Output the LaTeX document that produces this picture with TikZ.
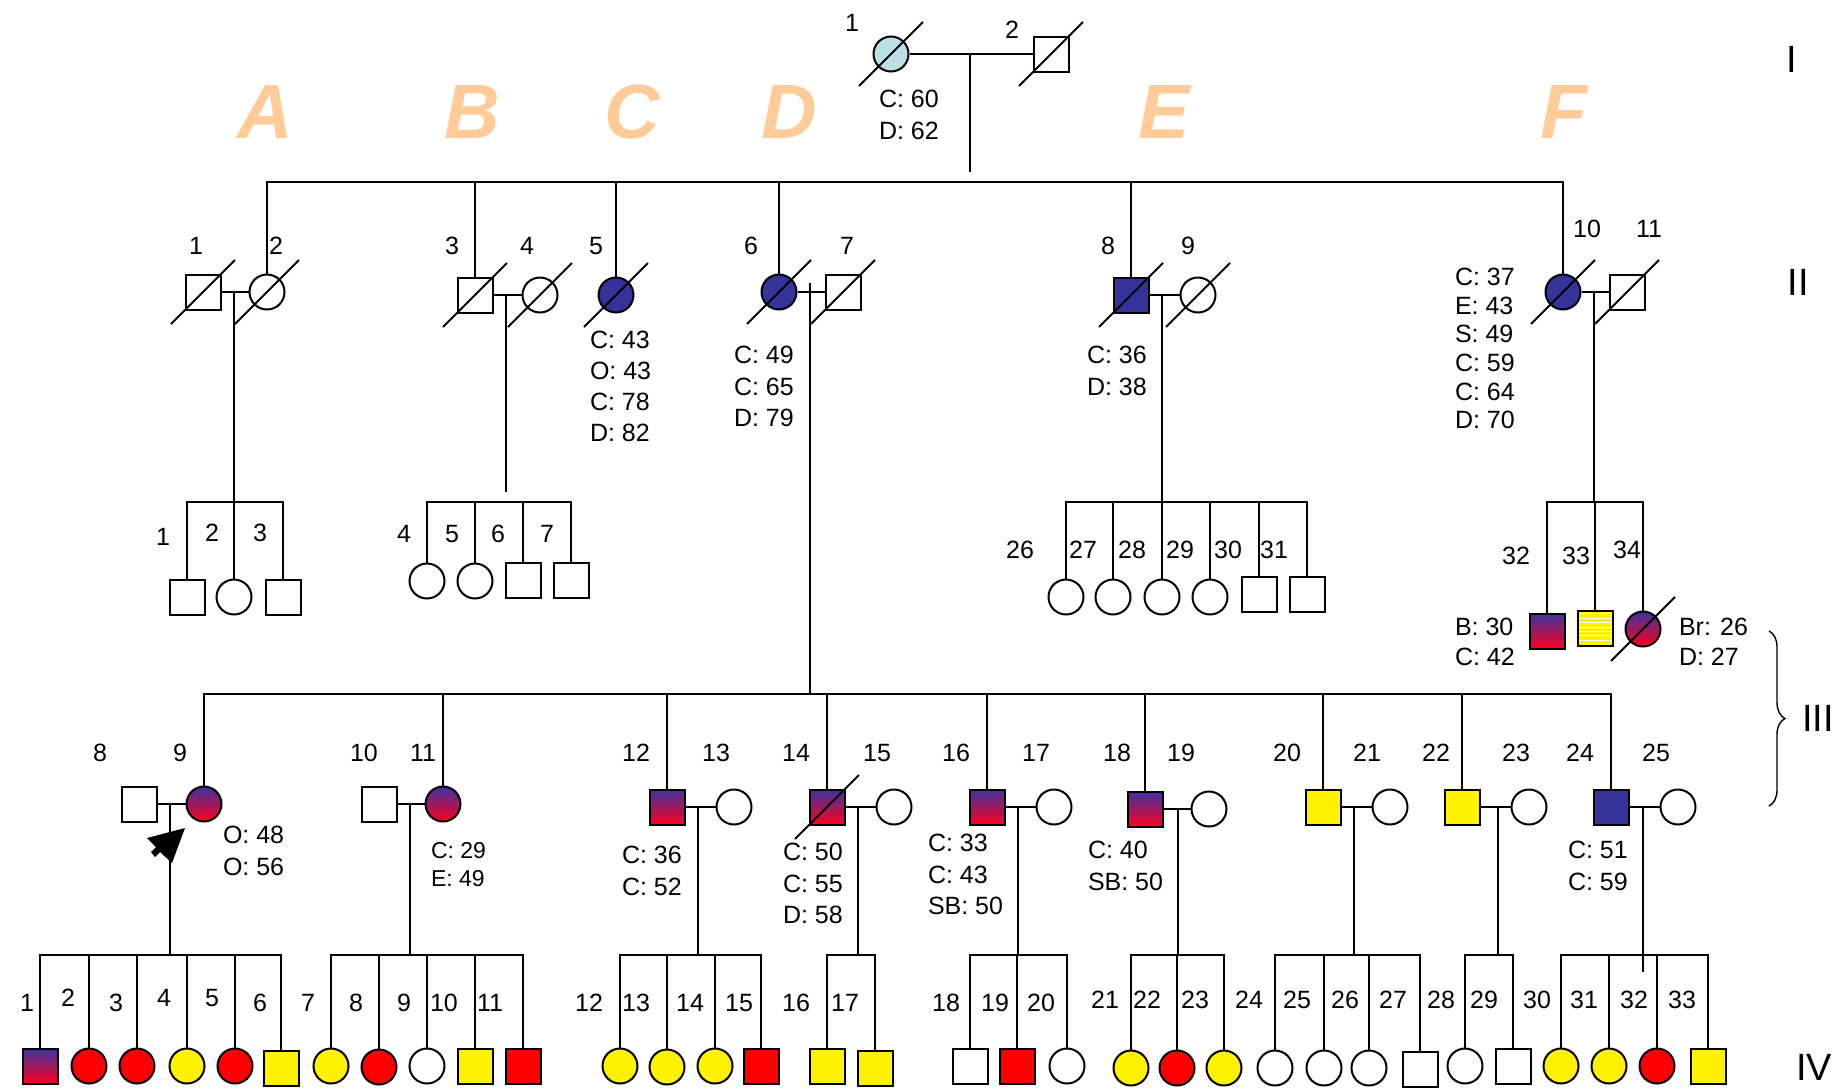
\documentclass[tikz,border=0pt]{standalone}
\usepackage{fontspec}
\setmainfont{Liberation Sans}
\usetikzlibrary{arrows.meta,decorations.pathreplacing}
\definecolor{navy}{RGB}{51,51,153}
\definecolor{lblue}{RGB}{188,224,228}
\definecolor{gtop}{RGB}{60,50,160}
\definecolor{gbot}{RGB}{255,0,30}
\definecolor{peach}{RGB}{255,204,153}
\newcommand\labfont{\fontsize{12.5}{15}\selectfont}
\newcommand\infofont[1]{\fontsize{12.5}{#1}\selectfont}
\newcommand\deadmark[1]{\draw (#1) ++(-32,32) -- ++(64,-64);}
\newcommand\sibship[3]{\draw (#2.north) -- (#2.north |- #1) -- (#3.north |- #1) -- (#3.north);}
\newcommand\drops[2]{\foreach \n in {#2} \draw (\n.north) -- (\n.north |- #1);}
\tikzset{
  sq/.style={draw, rectangle, minimum size=17.5pt, inner sep=0pt},
  ci/.style={draw, circle, minimum size=17.5pt, inner sep=0pt},
  nv/.style={fill=navy},
  gr/.style={top color=gtop, bottom color=gbot},
  ye/.style={fill=yellow},
  rd/.style={fill=red},
  num/.style={inner sep=0pt, font=\labfont},
  info/.style={inner sep=0pt, anchor=west, align=left},
  letter/.style={inner sep=0pt, text=peach, font=\fontsize{38.5}{40}\selectfont\bfseries\itshape},
  roman/.style={inner sep=0pt, font=\fontsize{19}{22}\selectfont}
}
\begin{document}
\begin{tikzpicture}[x=0.5pt,y=-0.5pt,line width=1pt]
\useasboundingbox (0,0) rectangle (1843,1088);

% ---------- letters ----------
\foreach \l/\x in {A/265,B/472,C/632,D/789,E/1164,F/1564}
  \node[letter] (L\l) at (\x,112) {\l};

% ---------- generation labels ----------
\node[roman] (gI) at (1792,59) {I};
\node[roman] (gII) at (1798,282) {II};
\node[roman] (gIII) at (1818,718) {III};
\node[roman] (gIV) at (1814,1067) {IV};
\coordinate (brT) at (1769,631);
\coordinate (brB) at (1769,806);
\draw[line width=0.7pt, decorate, decoration={brace, amplitude=8pt}] (brT) -- (brB);

% ---------- generation I ----------
\node[ci, fill=lblue] (I1) at (891,54) {};
\node[sq] (I2) at (1051,54) {};
\node[num] (nI1) at (852,23) {1};
\node[num] (nI2) at (1012,30) {2};
\draw (I1) -- (I2);
\deadmark{I1}
\deadmark{I2}
\coordinate (dI) at (970,54);
\coordinate (dIe) at (970,172);
\draw (dI) -- (dIe);
\node[info, font=\infofont{16}] (tI1) at (878,115) {C: 60\\D: 62};

% ---------- generation II ----------
\node[sq] (II1) at (203,292) {};
\node[ci] (II2) at (267,292) {};
\node[sq] (II3) at (475,295) {};
\node[ci] (II4) at (540,295) {};
\node[ci,nv] (II5) at (616,295) {};
\node[ci,nv] (II6) at (779,292) {};
\node[sq] (II7) at (843,292) {};
\node[sq,nv] (II8) at (1131,295) {};
\node[ci] (II9) at (1198,295) {};
\node[ci,nv] (II10) at (1563,292) {};
\node[sq] (II11) at (1627,292) {};
\foreach \n in {II1,II2,II3,II4,II5,II6,II7,II8,II9,II10,II11} {\deadmark{\n}}

\coordinate (sII) at (0,182);
\sibship{sII}{II2}{II10}
\drops{sII}{II3,II5,II6,II8}

\draw (II1) -- (II2);
\draw (II3) -- (II4);
\draw (II6) -- (II7);
\draw (II8) -- (II9);
\draw (II10) -- (II11);

\foreach \t/\x/\y in {1/196/246,2/276/246,3/452/246,4/527/246,5/596/246,6/751/246,7/847/246,8/1108/246,9/1188/246,10/1587/229,11/1649/229}
  \node[num] (nII\t) at (\x,\y) {\t};

\node[info, font=\infofont{15.5}] (tII5) at (589,386.5) {C: 43\\O: 43\\C: 78\\D: 82};
\node[info, font=\infofont{15.75}] (tII6) at (733,386.5) {C: 49\\C: 65\\D: 79};
\node[info, font=\infofont{16}] (tII8) at (1086,371) {C: 36\\D: 38};
\node[info, font=\infofont{14.3}] (tII10) at (1454,348.5) {C: 37\\E: 43\\S: 49\\C: 59\\C: 64\\D: 70};

% ---------- generation III : families A, B, E, F ----------
\coordinate (sA) at (0,502);
\coordinate (dA) at (234,292);
\draw (dA) -- (dA |- sA);
\node[sq] (III1) at (187,597) {};
\node[ci] (III2) at (234,597) {};
\node[sq] (III3) at (283,597) {};
\sibship{sA}{III1}{III3}
\drops{sA}{III2}

\coordinate (dB) at (506,295);
\coordinate (dBe) at (506,492);
\draw (dB) -- (dBe);
\node[ci] (III4) at (427,581) {};
\node[ci] (III5) at (475,581) {};
\node[sq] (III6) at (523,580) {};
\node[sq] (III7) at (571,580) {};
\sibship{sA}{III4}{III7}
\drops{sA}{III5,III6}

\coordinate (dE) at (1162,295);
\draw (dE) -- (dE |- sA);
\node[ci] (III26) at (1066,597) {};
\node[ci] (III27) at (1113,597) {};
\node[ci] (III28) at (1162,597) {};
\node[ci] (III29) at (1210,597) {};
\node[sq] (III30) at (1259,594) {};
\node[sq] (III31) at (1307,594) {};
\sibship{sA}{III26}{III31}
\drops{sA}{III27,III28,III29,III30}

\coordinate (dF) at (1594,292);
\draw (dF) -- (dF |- sA);
\node[sq,gr] (III32) at (1547,631) {};
\node[sq,ye] (III33) at (1595,628) {};
\foreach \k in {1,...,7}
  \draw[white, line width=0.5pt] ([xshift=1pt, yshift=-\k*2.2pt]III33.north west) -- ([xshift=-1pt, yshift=-\k*2.2pt]III33.north east);
\node[ci,gr] (III34) at (1643,629) {};
\deadmark{III34}
\sibship{sA}{III32}{III34}
\drops{sA}{III33}
\node[info, font=\infofont{15}] (tIII32) at (1454,642) {B: 30\\C: 42};
\node[info, font=\infofont{15}] (tIII34) at (1678,642) {Br: 26\\D: 27};

% ---------- generation III : family D ----------
\coordinate (sIII) at (0,694);
\coordinate (dD) at (810,283);
\draw (dD) -- (dD |- sIII);
\node[sq] (III8) at (139,804) {};
\node[ci,gr] (III9) at (204,804) {};
\node[sq] (III10) at (379,804) {};
\node[ci,gr] (III11) at (443,804) {};
\node[sq,gr] (III12) at (667,807) {};
\node[ci] (III13) at (734,807) {};
\node[sq,gr] (III14) at (827,807) {};
\node[ci] (III15) at (894,807) {};
\node[sq,gr] (III16) at (987,807) {};
\node[ci] (III17) at (1054,807) {};
\node[sq,gr] (III18) at (1145,809) {};
\node[ci] (III19) at (1209,809) {};
\node[sq,ye] (III20) at (1323,807) {};
\node[ci] (III21) at (1390,807) {};
\node[sq,ye] (III22) at (1462,807) {};
\node[ci] (III23) at (1529,807) {};
\node[sq,nv] (III24) at (1611,807) {};
\node[ci] (III25) at (1678,807) {};
\deadmark{III14}
\sibship{sIII}{III9}{III24}
\drops{sIII}{III11,III12,III14,III16,III18,III20,III22}
\draw (III8) -- (III9);
\draw (III10) -- (III11);
\draw (III12) -- (III13);
\draw (III14) -- (III15);
\draw (III16) -- (III17);
\draw (III18) -- (III19);
\draw (III20) -- (III21);
\draw (III22) -- (III23);
\draw (III24) -- (III25);

\foreach \t/\x/\y in {1/163/537,2/212/533,3/260/533,4/404/534,5/452/534,6/498/534,7/547/534,8/100/753,9/180/753,10/364/753,11/423/753,12/636/753,13/716/753,14/796/753,15/877/753,16/956/753,17/1036/753,18/1117/753,19/1181/753,20/1287/753,21/1367/753,22/1436/753,23/1516/753,24/1580/753,25/1656/753,26/1020/550,27/1083/550,28/1132/550,29/1180/550,30/1228/550,31/1274/550,32/1516/556,33/1576/556,34/1627/550}
  \node[num] (nIII\t) at (\x,\y) {\t};

\node[info, font=\infofont{16}] (tIII9) at (222,851) {O: 48\\O: 56};
\node[info, font=\fontsize{11.5}{14}\selectfont] (tIII11) at (430,865) {C: 29\\E: 49};
\node[info, font=\infofont{16}] (tIII12) at (621,871) {C: 36\\C: 52};
\node[info, font=\infofont{15.75}] (tIII14) at (782,883.5) {C: 50\\C: 55\\D: 58};
\node[info, font=\infofont{15.75}] (tIII16) at (927,874.5) {C: 33\\C: 43\\SB: 50};
\node[info, font=\infofont{16}] (tIII18) at (1087,866) {C: 40\\SB: 50};
\node[info, font=\infofont{16}] (tIII24) at (1567,866) {C: 51\\C: 59};

% ---------- generation IV ----------
\coordinate (sIV) at (0,955);
\node[sq,gr] (IV1) at (40,1066) {};
\node[ci,rd] (IV2) at (89,1066) {};
\node[ci,rd] (IV3) at (137,1066) {};
\node[ci,ye] (IV4) at (187,1066) {};
\node[ci,rd] (IV5) at (235,1066) {};
\node[sq,ye] (IV6) at (281,1068) {};
\node[ci,ye] (IV7) at (331,1066) {};
\node[ci,rd] (IV8) at (379,1067) {};
\node[ci] (IV9) at (427,1066) {};
\node[sq,ye] (IV10) at (475,1066) {};
\node[sq,rd] (IV11) at (523,1066) {};
\node[ci,ye] (IV12) at (620,1066) {};
\node[ci,ye] (IV13) at (667,1067) {};
\node[ci,ye] (IV14) at (715,1066) {};
\node[sq,rd] (IV15) at (761,1066) {};
\node[sq,ye] (IV16) at (827,1066) {};
\node[sq,ye] (IV17) at (875,1068) {};
\node[sq] (IV18) at (970,1066) {};
\node[sq,rd] (IV19) at (1017,1066) {};
\node[ci] (IV20) at (1067,1066) {};
\node[ci,ye] (IV21) at (1131,1068) {};
\node[ci,rd] (IV22) at (1177,1068) {};
\node[ci,ye] (IV23) at (1224,1068) {};
\node[ci] (IV24) at (1275,1068) {};
\node[ci] (IV25) at (1324,1068) {};
\node[ci] (IV26) at (1369,1068) {};
\node[sq] (IV27) at (1420,1069) {};
\node[ci] (IV28) at (1465,1066) {};
\node[sq] (IV29) at (1513,1066) {};
\node[ci,ye] (IV30) at (1561,1066) {};
\node[ci,ye] (IV31) at (1609,1066) {};
\node[ci,rd] (IV32) at (1657,1066) {};
\node[sq,ye] (IV33) at (1708,1066) {};

\sibship{sIV}{IV1}{IV6}
\drops{sIV}{IV2,IV3,IV4,IV5}
\sibship{sIV}{IV7}{IV11}
\drops{sIV}{IV8,IV9,IV10}
\sibship{sIV}{IV12}{IV15}
\drops{sIV}{IV13,IV14}
\sibship{sIV}{IV16}{IV17}
\sibship{sIV}{IV18}{IV20}
\drops{sIV}{IV19}
\sibship{sIV}{IV21}{IV23}
\drops{sIV}{IV22}
\sibship{sIV}{IV24}{IV27}
\drops{sIV}{IV25,IV26}
\sibship{sIV}{IV28}{IV29}
\sibship{sIV}{IV30}{IV33}
\drops{sIV}{IV31,IV32}

% descents gen III -> IV
\coordinate (d89) at (170,804);
\coordinate (d1011) at (410,804);
\coordinate (d1213) at (698,807);
\coordinate (d1415) at (858,807);
\coordinate (d1617) at (1018,807);
\coordinate (d1819) at (1178,809);
\coordinate (d2021) at (1354,807);
\coordinate (d2223) at (1498,807);
\foreach \d in {d89,d1011,d1213,d1415,d1617,d1819,d2021,d2223}
  \draw (\d) -- (\d |- sIV);
\coordinate (d2425) at (1643,807);
\coordinate (d2425e) at (1643,972);
\draw (d2425) -- (d2425e);

% proband arrow (tip at arE)
\coordinate (arE) at (185,828);
\fill (arE) -- ++(-38,10) -- ++(9,9) -- ++(-5,5) -- ++(4,5) -- ++(5,-5) -- ++(12,11) -- cycle;

\foreach \t/\x/\y in {1/27/1003,2/68/998,3/116/1003,4/164/998,5/212/998,6/260/1003,7/308/1003,8/356/1003,9/404/1003,10/444/1003,11/490/1003,12/589/1003,13/636/1003,14/690/1003,15/739/1003,16/796/1003,17/845/1003,18/946/1003,19/995/1003,20/1041/1003,21/1105/1000,22/1147/1000,23/1195/1000,24/1249/1000,25/1297/1000,26/1345/1000,27/1393/1000,28/1441/1000,29/1484/1000,30/1537/1000,31/1584/1000,32/1634/1000,33/1682/1000}
  \node[num] (nIV\t) at (\x,\y) {\t};

\end{tikzpicture}
\end{document}
